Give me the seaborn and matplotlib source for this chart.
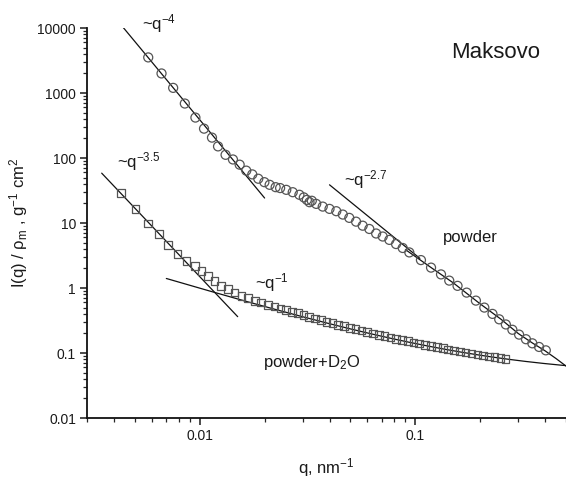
import numpy as np
import pandas as pd
import matplotlib
matplotlib.use("Agg")
import matplotlib.pyplot as plt
import seaborn as sns
from matplotlib.ticker import LogLocator, NullFormatter, FixedLocator, FixedFormatter

# ---------------- data ----------------
powder_q = [0.00577, 0.00665, 0.00753, 0.00853, 0.00955, 0.01047, 0.0114, 0.01216,
            0.01318, 0.01426, 0.01532, 0.01644, 0.01753, 0.01869, 0.01995, 0.0211,
            0.0225, 0.0236, 0.0252, 0.0270, 0.0290, 0.0304, 0.0314, 0.0323, 0.0331,
            0.0347, 0.0372, 0.0400, 0.0430, 0.0461, 0.0494, 0.0531, 0.0570, 0.0612,
            0.0658, 0.0706, 0.0758, 0.0814, 0.0874, 0.0938, 0.1062, 0.1183, 0.1316,
            0.1437, 0.157, 0.173, 0.191, 0.209, 0.228, 0.245, 0.263, 0.282, 0.303,
            0.326, 0.349, 0.375, 0.403]
powder_I = [3530, 2000, 1200, 689, 419, 283, 206, 151,
            112, 95, 79, 64, 56, 48, 42.5, 38.7,
            35.6, 34.5, 32.4, 29.8, 27.2, 24.8, 22.7, 20.9, 22.0,
            19.7, 17.9, 16.5, 15.2, 13.5, 12.0, 10.5, 9.1, 8.1,
            6.9, 6.2, 5.5, 4.75, 4.13, 3.53, 2.69, 2.06, 1.62,
            1.30, 1.08, 0.85, 0.64, 0.50, 0.40, 0.33, 0.275, 0.228, 0.192,
            0.163, 0.141, 0.124, 0.110]

d2o_q = [0.0043, 0.00504, 0.00577, 0.00649, 0.00714, 0.00789, 0.00867, 0.00948,
         0.01018, 0.01092, 0.01173, 0.01259, 0.01352, 0.01452, 0.0156, 0.01674,
         0.0180, 0.0193, 0.0207, 0.0222, 0.0237, 0.0252, 0.0268, 0.0285, 0.0303,
         0.0322, 0.0343, 0.0365, 0.0388, 0.0413, 0.0439, 0.0467, 0.0497, 0.0529,
         0.0562, 0.0598, 0.0636, 0.0677, 0.0720, 0.0766, 0.0815, 0.0866, 0.0922,
         0.0980, 0.104, 0.111, 0.118, 0.126, 0.134, 0.142, 0.151, 0.161, 0.171,
         0.182, 0.194, 0.206, 0.219, 0.233, 0.248, 0.262]
d2o_I = [29.1, 16.5, 9.9, 6.8, 4.6, 3.33, 2.63, 2.20,
         1.84, 1.54, 1.29, 1.08, 0.96, 0.853, 0.758, 0.698,
         0.634, 0.597, 0.55, 0.519, 0.483, 0.455, 0.43, 0.41, 0.385,
         0.362, 0.338, 0.321, 0.302, 0.287, 0.271, 0.258, 0.244, 0.232,
         0.221, 0.212, 0.201, 0.191, 0.182, 0.174, 0.166, 0.159, 0.152,
         0.146, 0.140, 0.134, 0.129, 0.123, 0.119, 0.114, 0.110, 0.106, 0.102,
         0.098, 0.095, 0.092, 0.089, 0.086, 0.083, 0.081]

# fitted curve through the powder data at high q
powder_fit_q = [0.09, 0.12, 0.15, 0.2, 0.25, 0.3, 0.35, 0.4, 0.45, 0.5]
powder_fit_I = [3.9, 2.0, 1.2, 0.57, 0.33, 0.2, 0.142, 0.108, 0.082, 0.063]

# power-law guide lines: exponent, reference q, I at reference q, q range
guide_names = ["~q-4", "~q-3.5", "~q-2.7"]
guide_exp = [-4.0, -3.5, -2.7]
guide_qref = [0.00577, 0.00351, 0.04]
guide_Iref = [3500, 58.5, 38.7]
guide_qmin = [0.00427, 0.00351, 0.04]
guide_qmax = [0.0200, 0.0150, 0.105]

# ~q^-1 fit for powder+D2O: I = A/q + B
d2o_fit_A = 0.0095
d2o_fit_B = 0.045
d2o_fit_qmin, d2o_fit_qmax = 0.0070, 0.5

# ---------------- style ----------------
sns.set_theme(style="ticks")
plt.rcParams["font.family"] = ["Liberation Sans", "DejaVu Sans"]
plt.rcParams["mathtext.fontset"] = "custom"
plt.rcParams["mathtext.rm"] = "Liberation Sans"
plt.rcParams["mathtext.it"] = "Liberation Sans:italic"
plt.rcParams["mathtext.default"] = "regular"

txt = "#1a1a1a"
fig = plt.figure(figsize=(5.66, 4.79), dpi=100)
ax = fig.add_axes([0.1537, 0.1273, 0.8463, 0.8142])

# guide lines
for e, qr, Ir, q0, q1 in zip(guide_exp, guide_qref, guide_Iref, guide_qmin, guide_qmax):
    qq = np.geomspace(q0, q1, 50)
    sns.lineplot(x=qq, y=Ir * (qq / qr) ** e, ax=ax, color="#111111", lw=0.9,
                 estimator=None, sort=False)

qq = np.geomspace(d2o_fit_qmin, d2o_fit_qmax, 200)
sns.lineplot(x=qq, y=d2o_fit_A / qq + d2o_fit_B, ax=ax, color="#111111", lw=0.9,
             estimator=None, sort=False)
sns.lineplot(x=powder_fit_q, y=powder_fit_I, ax=ax, color="#111111", lw=0.9,
             estimator=None, sort=False)

# data
df_p = pd.DataFrame({"q": powder_q, "I": powder_I})
df_d = pd.DataFrame({"q": d2o_q, "I": d2o_I})
sns.scatterplot(data=df_p, x="q", y="I", ax=ax, marker="o", s=42,
                facecolors="none", edgecolor="#555555", linewidth=0.9, zorder=3)
sns.scatterplot(data=df_d, x="q", y="I", ax=ax, marker="s", s=30,
                facecolors="none", edgecolor="#555555", linewidth=0.9, zorder=3)

ax.set_xscale("log")
ax.set_yscale("log")
ax.set_xlim(0.003, 0.5)
ax.set_ylim(0.01, 10000)

ax.yaxis.set_major_locator(FixedLocator([0.01, 0.1, 1, 10, 100, 1000, 10000]))
ax.yaxis.set_major_formatter(FixedFormatter(["0.01", "0.1", "1", "10", "100", "1000", "10000"]))
ax.xaxis.set_major_locator(FixedLocator([0.01, 0.1]))
ax.xaxis.set_major_formatter(FixedFormatter(["0.01", "0.1"]))
ax.xaxis.set_minor_locator(LogLocator(base=10, subs=np.arange(2, 10), numticks=20))
ax.yaxis.set_minor_locator(LogLocator(base=10, subs=np.arange(2, 10), numticks=20))
ax.xaxis.set_minor_formatter(NullFormatter())
ax.yaxis.set_minor_formatter(NullFormatter())

ax.tick_params(axis="both", which="major", length=5, width=1.1, direction="out",
               labelsize=10, colors=txt, pad=3)
ax.tick_params(axis="both", which="minor", length=3, width=0.9, direction="out")
for sp in ["left", "bottom"]:
    ax.spines[sp].set_linewidth(1.3)
    ax.spines[sp].set_color("#111111")
sns.despine(ax=ax)

ax.set_xlabel("q, nm$^{-1}$", fontsize=12, color=txt, labelpad=9)
ax.set_ylabel("I(q) / ρ$_m$ , g$^{-1}$ cm$^2$", fontsize=12, color=txt, labelpad=5)

def px(x, y):
    return (x / 566, 1 - y / 479)

fig.text(*px(496, 53), "Maksovo", fontsize=16, color=txt, ha="center", va="center")
fig.text(*px(470, 237), "powder", fontsize=12, color=txt, ha="center", va="center")
fig.text(*px(312, 362), "powder+D$_2$O", fontsize=12, color=txt, ha="center", va="center")
fig.text(*px(159, 24), "~q$^{-4}$", fontsize=12, color=txt, ha="center", va="center")
fig.text(*px(139, 162), "~q$^{-3.5}$", fontsize=12, color=txt, ha="center", va="center")
fig.text(*px(366, 180), "~q$^{-2.7}$", fontsize=12, color=txt, ha="center", va="center")
fig.text(*px(272, 283), "~q$^{-1}$", fontsize=12, color=txt, ha="center", va="center")

fig.savefig("out.png", dpi=100)
